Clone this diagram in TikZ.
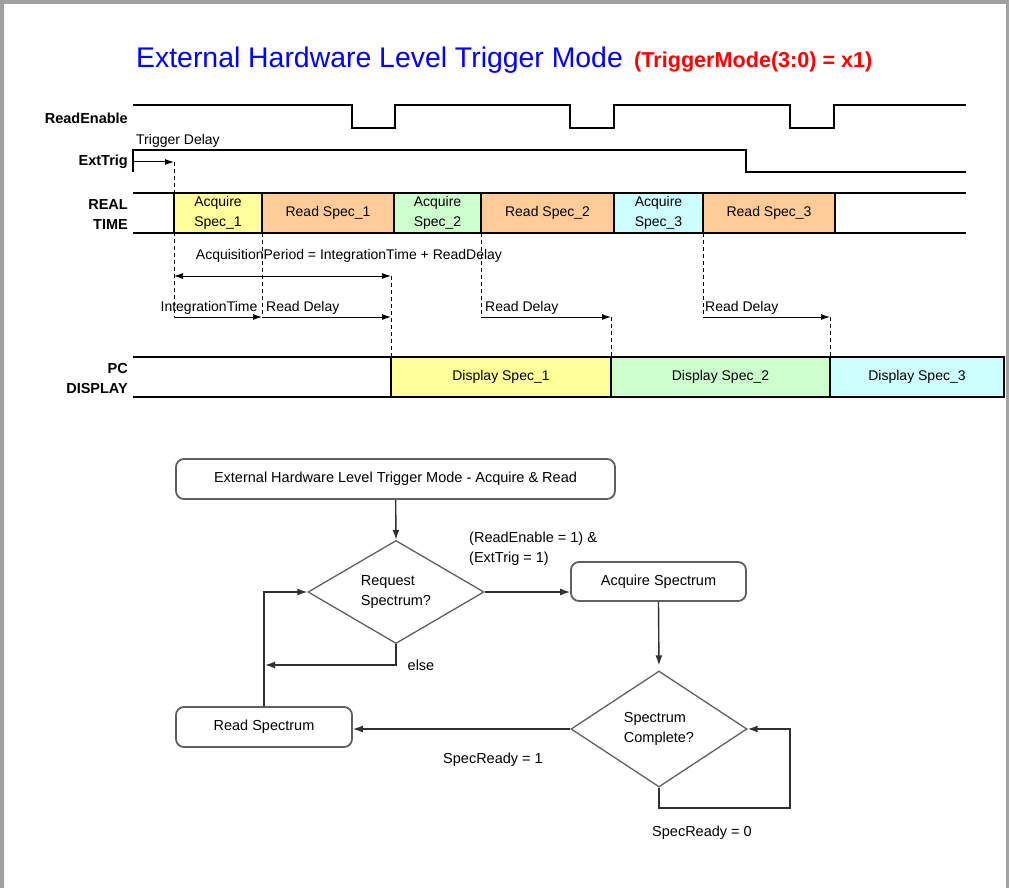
\documentclass[tikz,border=0pt]{standalone}
\usepackage{fontspec}
\setmainfont{Liberation Sans}
\usetikzlibrary{arrows.meta,shapes.geometric,calc}
\definecolor{yel}{HTML}{FFFF99}
\definecolor{ora}{HTML}{FFCC99}
\definecolor{grn}{HTML}{CCFFCC}
\definecolor{cya}{HTML}{CCFFFF}
\definecolor{framegray}{HTML}{A0A0A0}
\definecolor{fline}{HTML}{303030}
\definecolor{fborder}{HTML}{606060}
\begin{document}
\begin{tikzpicture}[x=1pt,y=-1pt,
  wave/.style={line width=2pt, line join=miter},
  tbox/.style={draw, line width=1.6pt, minimum height=40pt, inner sep=0pt, align=center, font=\fontsize{14}{20}\selectfont},
  sig/.style={font=\bfseries\fontsize{14.5}{20}\selectfont, align=right, anchor=east, inner sep=0pt},
  lbl/.style={font=\fontsize{14}{17}\selectfont, inner sep=0pt},
  dline/.style={line width=0.9pt, dash pattern=on 4pt off 3pt},
  tarr/.style={line width=1pt, -{Latex[length=9pt,width=6pt]}},
  darr/.style={line width=1pt, {Latex[length=9pt,width=6pt]}-{Latex[length=9pt,width=6pt]}},
  fbox/.style={draw=fborder, line width=1.8pt, rounded corners=8pt, inner sep=0pt, font=\fontsize{14.5}{20}\selectfont},
  fdia/.style={draw=fborder, line width=1.3pt, diamond, inner sep=0pt, align=left, font=\fontsize{14.5}{20}\selectfont},
  flbl/.style={font=\fontsize{14.5}{20}\selectfont, inner sep=0pt},
  farr/.style={draw=fline, line width=1.4pt, -{Latex[length=10pt,width=7pt]}}
]
\useasboundingbox (0,0) rectangle (1010,888);
\draw[framegray, line width=3.5pt] (1.75,888) -- (1.75,2) -- (1007.5,2) -- (1007.5,888);

% title
\node[anchor=base west, inner sep=0pt, text=blue, font=\fontsize{28.4}{30}\selectfont] (title) at (136,68) {External Hardware Level Trigger Mode};
\node[anchor=base west, inner sep=0pt, text=red, font=\bfseries\fontsize{21.6}{24}\selectfont] (mode) at (634,68) {(TriggerMode(3:0) = x1)};

% signal names
\node[sig] (lre) at (128,118) {ReadEnable};
\node[sig] (let) at (128,162) {ExtTrig};
\node[sig] (lrt) at (128,215) {REAL\\TIME};
\node[sig] (lpc) at (128,379) {PC\\DISPLAY};

% coordinates of timing arrows
\coordinate (trgS) at (133,162);
\coordinate (trgE) at (174,162);
\coordinate (apS) at (174,276);
\coordinate (apE) at (391,276);
\coordinate (itS) at (174,317);
\coordinate (itE) at (262,317);
\coordinate (rdE) at (391,317);
\coordinate (r2S) at (481,317);
\coordinate (r2E) at (611,317);
\coordinate (r3S) at (703,317);
\coordinate (r3E) at (830,317);

% dashed guides
\draw[dline] (trgE) -- (itS);
\draw[dline] (262,233) -- (itE);
\draw[dline] (apE) -- (391,357);
\draw[dline] (481,233) -- (r2S);
\draw[dline] (r2E) -- (611,357);
\draw[dline] (703,233) -- (r3S);
\draw[dline] (r3E) -- (830,357);

% waveforms
\draw[wave] (133,105) -- (352,105) -- (352,128) -- (395,128) -- (395,105) -- (570,105) -- (570,128) -- (614,128) -- (614,105) -- (790,105) -- (790,128) -- (834,128) -- (834,105) -- (966,105);
\draw[wave] (133,172) -- (133,150) -- (746,150) -- (746,172) -- (966,172);

% REAL TIME row
\node[tbox, fill=yel, minimum width=88pt] (acq1) at (218,213) {Acquire\\Spec\_1};
\node[tbox, fill=ora, minimum width=132pt] (rd1) at (328,213) {Read Spec\_1};
\node[tbox, fill=grn, minimum width=87pt] (acq2) at (437.5,213) {Acquire\\Spec\_2};
\node[tbox, fill=ora, minimum width=133pt] (rd2) at (547.5,213) {Read Spec\_2};
\node[tbox, fill=cya, minimum width=89pt] (acq3) at (658.5,213) {Acquire\\Spec\_3};
\node[tbox, fill=ora, minimum width=132pt] (rd3) at (769,213) {Read Spec\_3};
\draw[wave] (133,193) -- (966,193);
\draw[wave] (133,233) -- (966,233);

% PC DISPLAY row
\node[tbox, fill=yel, minimum width=220pt] (ds1) at (501,377) {Display Spec\_1};
\node[tbox, fill=grn, minimum width=219pt] (ds2) at (720.5,377) {Display Spec\_2};
\node[tbox, fill=cya, minimum width=174pt] (ds3) at (917,377) {Display Spec\_3};
\draw[wave] (133,357) -- (1004,357);
\draw[wave] (133,397) -- (1004,397);

% timing arrows
\draw[tarr] (trgS) -- (trgE);
\draw[darr] (apS) -- (apE);
\draw[tarr] (itS) -- (itE);
\draw[tarr] (itE) -- (rdE);
\draw[tarr] (r2S) -- (r2E);
\draw[tarr] (r3S) -- (r3E);

% timing labels
\node[lbl, anchor=west] (tdl) at (136,141) {Trigger Delay};
\node[lbl] (apl) at (349,256) {AcquisitionPeriod = IntegrationTime + ReadDelay};
\node[lbl] (itl) at (209,308) {IntegrationTime};
\node[lbl, anchor=west] (rdl1) at (266,308) {Read Delay};
\node[lbl, anchor=west] (rdl2) at (485,308) {Read Delay};
\node[lbl, anchor=west] (rdl3) at (705,308) {Read Delay};

% flowchart
\node[fbox, minimum width=439pt, minimum height=40pt] (top) at (395.5,479) {External Hardware Level Trigger Mode - Acquire \& Read};
\node[fdia, minimum width=176pt, minimum height=100pt] (d1) at (396,592) {Request\\Spectrum?};
\node[fbox, minimum width=175pt, minimum height=39pt] (acq) at (658.5,581.5) {Acquire Spectrum};
\node[fdia, minimum width=176pt, minimum height=116pt] (d2) at (659,729) {Spectrum\\Complete?};
\node[fbox, minimum width=176pt, minimum height=40pt] (rs) at (264,727) {Read Spectrum};

\coordinate (loopc) at (790,808);
\coordinate (elsec) at (265,665);

\draw[farr] (top) -- (d1.north);
\draw[farr] (d1.east) -- (d1.east -| acq.west);
\draw[farr, shorten >=5pt] (acq.south) -- (d2.north);
\draw[farr] (d2.south) |- (loopc) |- (d2.east);
\draw[farr] (d2.west) -- (d2.west -| rs.east);
\draw[farr] (rs.north) |- (d1.west);
\draw[farr] (d1.south) |- (elsec);

\node[flbl, align=left, anchor=west] (cond) at (469,549) {(ReadEnable = 1) \&\\(ExtTrig = 1)};
\node[flbl] (elsel) at (421,665) {else};
\node[flbl] (sr1) at (493,760) {SpecReady = 1};
\node[flbl] (sr0) at (702,833) {SpecReady = 0};
\end{tikzpicture}
\end{document}
